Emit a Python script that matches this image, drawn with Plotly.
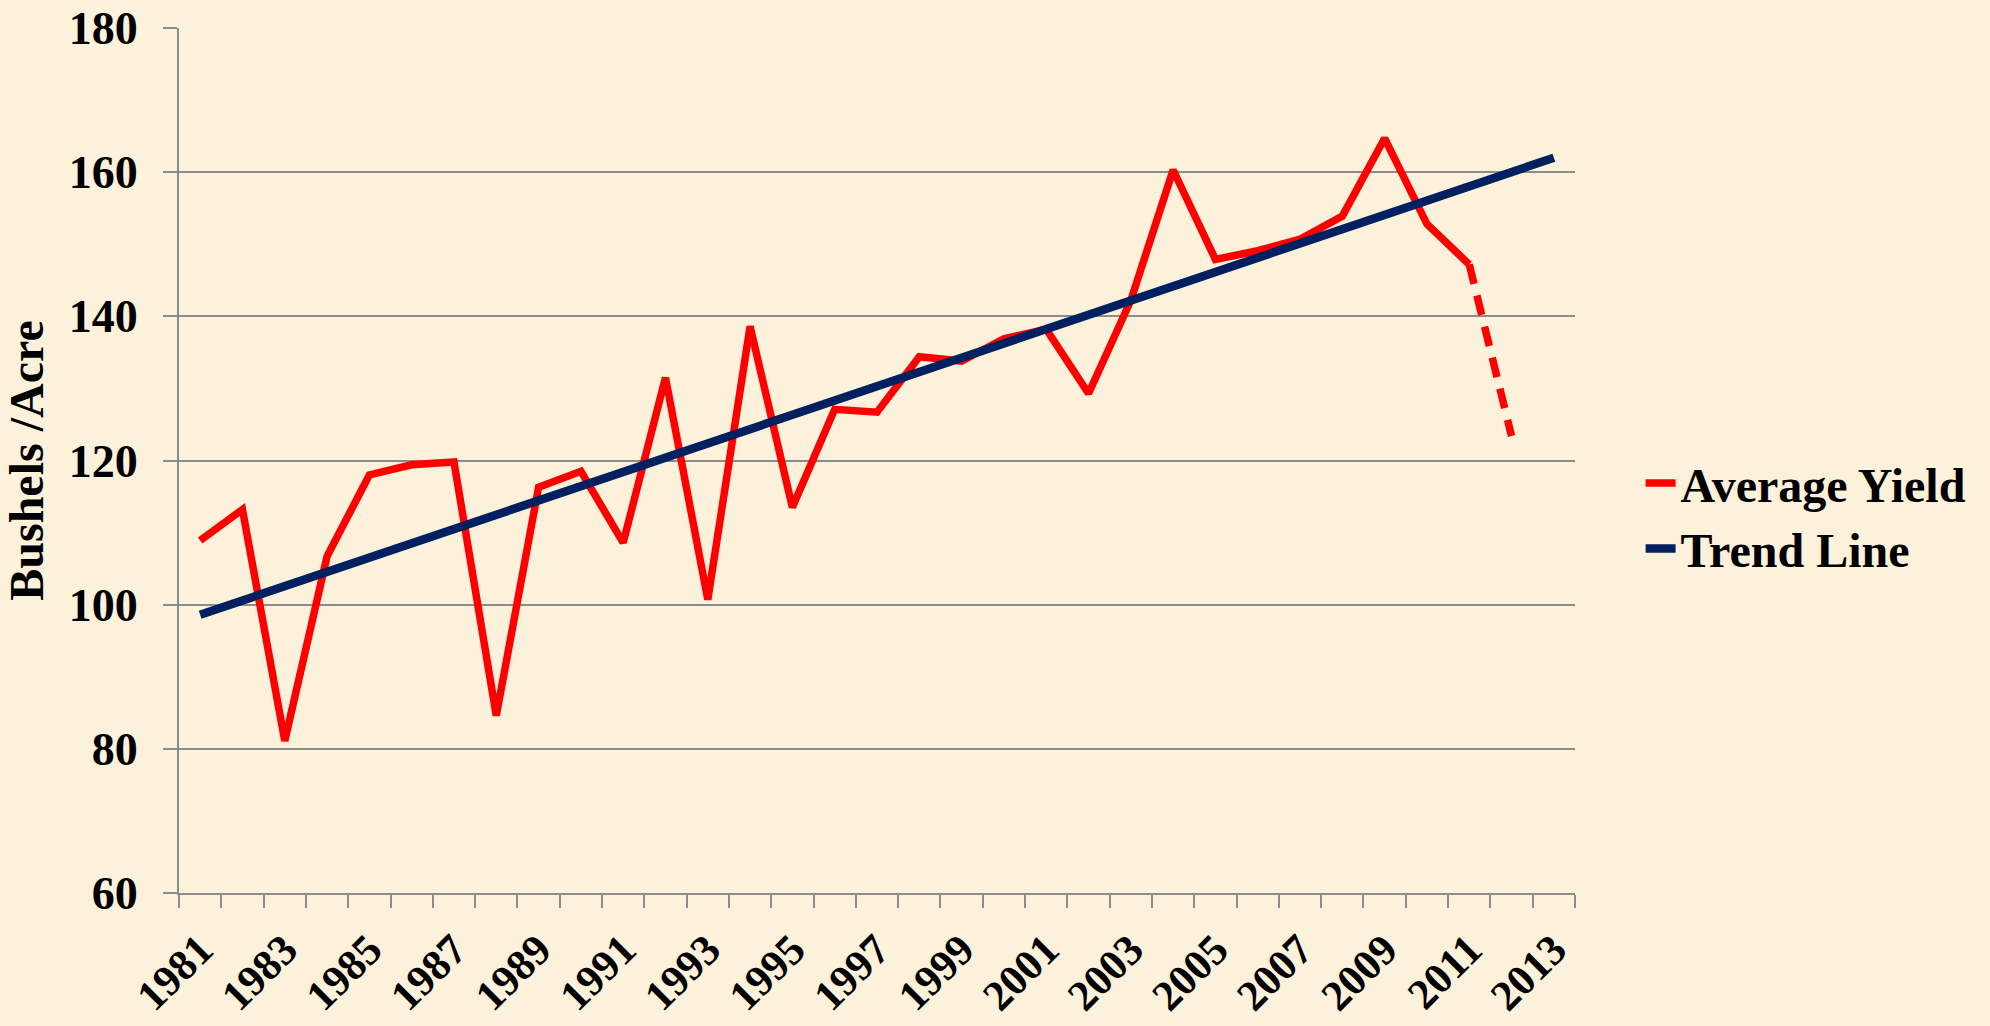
import plotly.graph_objects as go

years = list(range(1981, 2012))
avg_yield = [108.9, 113.2, 81.1, 106.7, 118.0, 119.4, 119.8, 84.6, 116.3, 118.5,
             108.6, 131.5, 100.7, 138.6, 113.5, 127.1, 126.7, 134.4, 133.8, 136.9,
             138.2, 129.3, 142.2, 160.3, 147.9, 149.1, 150.7, 153.9, 164.7, 152.8,
             147.2]
proj_years = [2011, 2012]
proj_yield = [147.2, 123.4]
trend_years = [1981, 2013]
trend_values = [98.6, 162.0]
tick_years = list(range(1981, 2014, 2))
tick_labels = [str(y) for y in tick_years]

FONT = "Liberation Serif"
BG = "#FCF1DA"
GRID = "#8C8C8C"

fig = go.Figure()
fig.add_trace(go.Scatter(x=years, y=avg_yield, mode="lines", name="Average Yield",
                         line=dict(color="#FF0000", width=7.5)))
fig.add_trace(go.Scatter(x=proj_years, y=proj_yield, mode="lines", showlegend=False,
                         line=dict(color="#FF0000", width=7.5, dash="20px,12px")))
fig.add_trace(go.Scatter(x=trend_years, y=trend_values, mode="lines", name="Trend Line",
                         line=dict(color="#002060", width=8.5)))

fig.update_layout(
    width=1990, height=1026,
    paper_bgcolor=BG, plot_bgcolor=BG,
    margin=dict(l=179, r=415, t=28, b=133, autoexpand=False),
    font=dict(family=FONT, color="black", weight="bold"),
    legend=dict(x=1.047, xanchor="left", y=0.436, yanchor="middle",
                font=dict(size=48, family=FONT, weight="bold"),
                bgcolor="rgba(0,0,0,0)", tracegroupgap=0),
    showlegend=True,
)
fig.update_xaxes(
    range=[1980.5, 2013.5], tickmode="array", tickvals=tick_years, ticktext=tick_labels,
    tickangle=-45, ticks="", showgrid=False, zeroline=False, automargin=False,
    showline=True, linecolor=GRID, linewidth=2,
    tickfont=dict(size=43, family=FONT, weight="bold"),
    ticklabelstandoff=12,
    minor=dict(tick0=1980.5, dtick=1, ticks="outside", ticklen=13, tickwidth=2,
               tickcolor=GRID, showgrid=False),
)
fig.update_yaxes(
    range=[60, 180], tickmode="array", tickvals=[60, 80, 100, 120, 140, 160, 180],
    ticks="outside", ticklen=14, tickwidth=2, tickcolor=GRID, automargin=False,
    showgrid=True, gridcolor=GRID, gridwidth=2, zeroline=False,
    showline=True, linecolor=GRID, linewidth=2,
    tickfont=dict(size=46, family=FONT, weight="bold"),
    ticklabelstandoff=16,
    title=dict(text="Bushels /Acre", font=dict(size=48, family=FONT, weight="bold"),
               standoff=10),
)

fig.write_html(
    "out.html",
    config={"displayModeBar": False},
    post_script="document.body.style.margin='0';document.body.style.background='%s';" % BG,
)
